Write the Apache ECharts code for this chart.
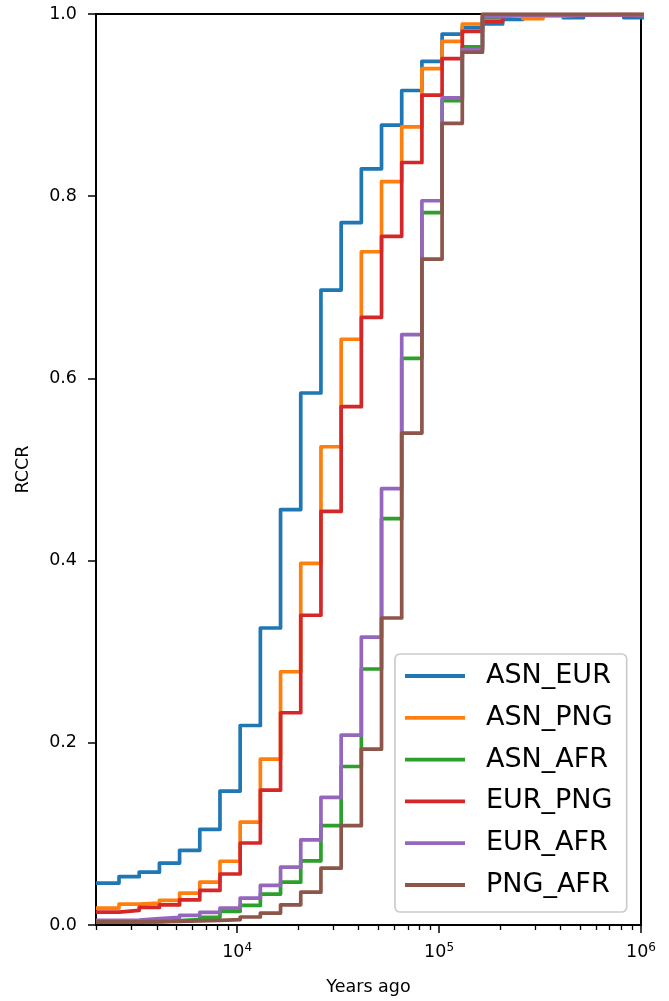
<!DOCTYPE html>
<html>
<head>
<meta charset="utf-8">
<script src="https://cdn.jsdelivr.net/npm/echarts@6/dist/echarts.min.js"></script>
<style>
html,body{margin:0;padding:0;background:#fff;}
#chart{width:669px;height:1001px;}
</style>
</head>
<body>
<div id="chart"></div>
<script>
// Bin edges (years ago); each value holds from its edge to the next edge
const binEdges = [2000, 2600, 3273, 4121, 5188, 6531, 8222, 10351, 13031, 16406, 20654, 26002, 32734, 41210, 51880, 65313, 82224, 103514, 130317, 164059, 206540, 260016, 327340, 412098, 518800, 653131, 822243, 1035142];

const seriesNames = ['ASN_EUR', 'ASN_PNG', 'ASN_AFR', 'EUR_PNG', 'EUR_AFR', 'PNG_AFR'];

const ASN_EUR = [0.046, 0.053, 0.058, 0.068, 0.082, 0.105, 0.147, 0.219, 0.326, 0.456, 0.584, 0.697, 0.771, 0.830, 0.878, 0.916, 0.948, 0.978, 0.985, 0.989, 0.994, 0.999, 0.999, 0.996, 0.999, 0.999, 0.996];
const ASN_PNG = [0.0186, 0.023, 0.024, 0.027, 0.035, 0.047, 0.070, 0.113, 0.182, 0.278, 0.397, 0.525, 0.643, 0.739, 0.816, 0.876, 0.940, 0.970, 0.989, 0.999, 0.998, 0.995, 0.998, 0.999, 0.999, 0.999, 0.9985];
const ASN_AFR = [0.003, 0.003, 0.0035, 0.0047, 0.006, 0.0085, 0.015, 0.0215, 0.034, 0.047, 0.0704, 0.109, 0.174, 0.281, 0.446, 0.622, 0.782, 0.905, 0.964, 0.996, 0.999, 0.999, 0.999, 0.999, 0.999, 0.999, 0.999];
const EUR_PNG = [0.0142, 0.016, 0.0193, 0.022, 0.0275, 0.0380, 0.056, 0.090, 0.148, 0.233, 0.340, 0.454, 0.569, 0.667, 0.756, 0.837, 0.911, 0.951, 0.981, 0.992, 0.999, 0.999, 0.999, 0.999, 0.999, 0.9993, 0.999];
const EUR_AFR = [0.005, 0.0055, 0.007, 0.0084, 0.0106, 0.0139, 0.0186, 0.0296, 0.0435, 0.0635, 0.0934, 0.140, 0.2085, 0.316, 0.479, 0.648, 0.795, 0.908, 0.961, 0.997, 0.999, 0.999, 0.999, 0.999, 0.999, 0.999, 0.999];
const PNG_AFR = [0.0035, 0.0035, 0.0036, 0.004, 0.0045, 0.005, 0.0058, 0.0088, 0.0131, 0.0222, 0.036, 0.0624, 0.109, 0.193, 0.337, 0.540, 0.731, 0.880, 0.958, 1.0, 1.0, 1.0, 1.0, 1.0, 1.0, 1.0, 1.0];

const xMajorTicks = [10000, 100000, 1000000];
const xMinorTicks = [2000, 3000, 4000, 5000, 6000, 7000, 8000, 9000, 20000, 30000, 40000, 50000, 60000, 70000, 80000, 90000, 200000, 300000, 400000, 500000, 600000, 700000, 800000, 900000];
const yTicks = [0, 0.2, 0.4, 0.6, 0.8, 1.0];

const colors = ['#1f77b4', '#ff7f0e', '#2ca02c', '#d62728', '#9467bd', '#8c564b'];
const allValues = [ASN_EUR, ASN_PNG, ASN_AFR, EUR_PNG, EUR_AFR, PNG_AFR];

const FONT = 'DejaVu Sans';

function stepData(vals) {
  const d = vals.map((v, i) => [binEdges[i], v]);
  d.push([binEdges[vals.length], vals[vals.length - 1]]);
  return d;
}

const chart = echarts.init(document.getElementById('chart'), null, {renderer: 'canvas'});

const option = {
  animation: false,
  backgroundColor: '#fff',
  grid: {left: 96, right: 28, top: 14, bottom: 74, show: true, borderColor: '#000', borderWidth: 2, backgroundColor: 'transparent'},
  xAxis: [
    {
      type: 'log', logBase: 10, min: 2000, max: 1000000, position: 'bottom',
      axisLine: {show: true, onZero: false, lineStyle: {color: '#000', width: 2}},
      axisTick: {show: true, customValues: xMajorTicks, length: 8, lineStyle: {color: '#000', width: 1.5}},
      minorTick: {show: false},
      splitLine: {show: false},
      axisLabel: {
        customValues: xMajorTicks, margin: 17, color: '#000',
        formatter: function (v) { return '{b|10}{s|' + Math.round(Math.log10(v)) + '}'; },
        rich: {
          b: {fontFamily: FONT, fontSize: 17.5, color: '#000', lineHeight: 20},
          s: {fontFamily: FONT, fontSize: 12, color: '#000', lineHeight: 20, verticalAlign: 'top', padding: [0, 0, 8, 0]}
        }
      },
      name: 'Years ago', nameLocation: 'middle', nameGap: 53,
      nameTextStyle: {fontFamily: FONT, fontSize: 17.5, color: '#000'}
    },
    {
      type: 'log', logBase: 10, min: 2000, max: 1000000, position: 'bottom',
      axisLine: {show: false},
      axisTick: {show: true, customValues: xMinorTicks, length: 5, lineStyle: {color: '#000', width: 1.3}},
      minorTick: {show: false},
      splitLine: {show: false},
      axisLabel: {show: false}
    }
  ],
  yAxis: {
    type: 'value', min: 0, max: 1, interval: 0.2,
    axisLine: {show: true, lineStyle: {color: '#000', width: 2}},
    axisTick: {show: true, length: 8, lineStyle: {color: '#000', width: 1.5}},
    splitLine: {show: false},
    axisLabel: {
      customValues: yTicks, margin: 19, color: '#000', fontFamily: FONT, fontSize: 17.5,
      formatter: function (v) { return v.toFixed(1); }
    },
    name: 'RCCR', nameLocation: 'middle', nameGap: 64, nameRotate: 90,
    nameTextStyle: {fontFamily: FONT, fontSize: 17.5, color: '#000'}
  },
  legend: {
    orient: 'vertical', left: 395, top: 654,
    icon: 'rect', itemWidth: 60, itemHeight: 3.8, itemGap: 11.8,
    padding: [7, 14, 12, 10],
    borderColor: '#cccccc', borderWidth: 1.7, borderRadius: 5, backgroundColor: 'rgba(255,255,255,0.8)',
    textStyle: {fontFamily: FONT, fontSize: 27, color: '#000', lineHeight: 30, padding: [0, 0, 0, 16]},
    data: seriesNames
  },
  series: seriesNames.map((name, i) => ({
    name: name, type: 'line', xAxisIndex: 0, yAxisIndex: 0,
    step: 'end', showSymbol: false, symbol: 'none', clip: true,
    color: colors[i],
    lineStyle: {color: colors[i], width: 3.7, join: 'round', cap: 'butt'},
    data: stepData(allValues[i])
  }))
};

chart.setOption(option);
</script>
</body>
</html>
